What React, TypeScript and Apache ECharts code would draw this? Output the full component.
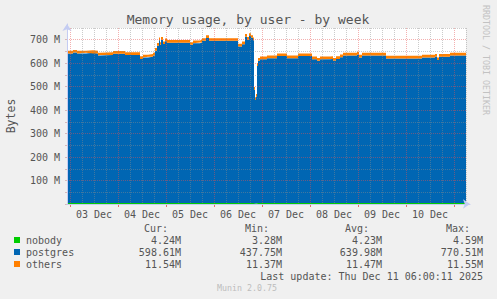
import React, { useEffect, useRef } from 'react';
import * as echarts from 'echarts';

// hours relative to 03 Dec 00:00
const hours = [
  -1.5, 1.5, 3.5, 8, 11.5, 14, 15, 21.5, 27.5, 35,
  36.5, 39, 41.5, 42.5, 43.5, 44.5, 45, 45.5, 46.5, 47.5,
  48.5, 60, 61.5, 65, 66, 68, 69.5, 84, 86, 87.5,
  88.5, 89.5, 90.5, 91.5, 92, 92.5, 93, 93.5, 94, 95,
  98.5, 103.5, 108.5, 114, 121, 123.5, 125, 130, 131.5, 133,
  135, 136.5, 143.5, 144.5, 146, 158, 176, 182.5, 183.5, 184.5,
  190, 198,
];
const postgres = [
  637, 641, 637, 640, 637, 629, 631, 636, 631, 614,
  620, 623, 629, 649, 670, 694, 674, 696, 677, 689,
  683, 674, 681, 684, 691, 703, 691, 667, 677, 709,
  696, 712, 704, 694, 484, 440, 454, 584, 606, 613,
  617, 626, 617, 626, 613, 606, 613, 614, 606, 614,
  621, 629, 633, 620, 629, 616, 620, 624, 609, 623,
  629, 629,
];
const nobody = [
  4.2, 4.2, 4.2, 4.2, 4.2, 4.2, 4.2, 4.2, 4.2, 4.2,
  4.2, 4.2, 4.2, 4.3, 4.3, 4.3, 4.3, 4.3, 4.3, 4.3,
  4.3, 4.3, 4.3, 4.3, 4.3, 4.3, 4.3, 4.2, 4.2, 4.2,
  4.2, 4.2, 4.2, 4.2, 3.3, 3.3, 3.3, 4.2, 4.2, 4.2,
  4.2, 4.2, 4.2, 4.2, 4.2, 4.2, 4.2, 4.2, 4.2, 4.2,
  4.2, 4.2, 4.2, 4.2, 4.2, 4.2, 4.2, 4.2, 4.2, 4.2,
  4.2, 4.2,
];
const others = [
  11.5, 11.5, 11.5, 11.5, 11.5, 11.5, 11.5, 11.5, 11.5, 11.5,
  11.5, 11.5, 11.5, 11.5, 11.5, 11.5, 11.5, 11.5, 11.5, 11.5,
  11.5, 11.5, 11.5, 11.5, 11.5, 11.5, 11.5, 11.4, 11.4, 11.4,
  11.4, 11.4, 11.4, 11.4, 11.4, 11.4, 11.4, 11.4, 11.5, 11.5,
  11.5, 11.5, 11.5, 11.5, 11.5, 11.5, 11.5, 11.5, 11.5, 11.5,
  11.5, 11.5, 11.5, 11.5, 11.5, 11.5, 11.5, 11.5, 11.5, 11.5,
  11.5, 11.5,
];
const dayLabels = ['03 Dec', '04 Dec', '05 Dec', '06 Dec', '07 Dec', '08 Dec', '09 Dec', '10 Dec'];

const legendNames = ['nobody', 'postgres', 'others'];
const legendColors = ['#00CC00', '#0066B3', '#FF8000'];
const curVals = ['4.24M', '598.61M', '11.54M'];
const minVals = ['3.28M', '437.75M', '11.37M'];
const avgVals = ['4.23M', '639.98M', '11.47M'];
const maxVals = ['4.59M', '770.51M', '11.55M'];
const colHeaders = ['Cur:', 'Min:', 'Avg:', 'Max:'];

const FONT = '"DejaVu Sans Mono", monospace';
const TXT = '#555555';
const RED = 'rgba(230,80,80,0.45)';
const GRAY = 'rgba(140,140,140,0.45)';
const AXIS = '#C4CCF2';
const T0 = Date.UTC(2025, 11, 3, 0, 0, 0);
const HOUR = 3600 * 1000;

export default function App() {
  const ref = useRef<HTMLDivElement>(null);
  useEffect(() => {
    if (!ref.current) return;
    const chart = echarts.init(ref.current, null, { renderer: 'svg' });
    const top = 28;
    const h = 176;
    const seriesDefs = [
      { name: 'nobody', vals: nobody, color: legendColors[0] },
      { name: 'postgres', vals: postgres, color: legendColors[1] },
      { name: 'others', vals: others, color: legendColors[2] },
    ];
    const graphic: any[] = [];
    graphic.push({
      type: 'text', x: 248, y: 19,
      style: { text: 'Memory usage, by user - by week', fill: TXT, fontSize: 13, fontFamily: FONT, textAlign: 'center', textVerticalAlign: 'middle' },
    });
    graphic.push({
      type: 'text', x: 11, y: 116, rotation: Math.PI / 2,
      style: { text: 'Bytes', fill: TXT, fontSize: 11.5, fontFamily: FONT, textAlign: 'center', textVerticalAlign: 'middle' },
    });
    graphic.push({
      type: 'text', x: 486, y: 60, rotation: -Math.PI / 2,
      style: { text: 'RRDTOOL / TOBI OETIKER', fill: '#C2C2C2', fontSize: 8.3, fontFamily: FONT, textAlign: 'center', textVerticalAlign: 'middle' },
    });
    const colRights = [181, 282, 382, 483];
    colHeaders.forEach((t, i) => {
      graphic.push({
        type: 'text', x: colRights[i] - 13, y: 228,
        style: { text: t, fill: TXT, fontSize: 10, fontFamily: FONT, textAlign: 'right', textVerticalAlign: 'middle' },
      });
    });
    const cols = [curVals, minVals, avgVals, maxVals];
    legendNames.forEach((n, r) => {
      const y = 240 + r * 12;
      graphic.push({ type: 'rect', shape: { x: 14, y: y - 3, width: 6, height: 6 }, style: { fill: legendColors[r] } });
      graphic.push({
        type: 'text', x: 26, y,
        style: { text: n, fill: TXT, fontSize: 10, fontFamily: FONT, textAlign: 'left', textVerticalAlign: 'middle' },
      });
      cols.forEach((c, i) => {
        graphic.push({
          type: 'text', x: colRights[i], y,
          style: { text: c[r], fill: TXT, fontSize: 10, fontFamily: FONT, textAlign: 'right', textVerticalAlign: 'middle' },
        });
      });
    });
    graphic.push({
      type: 'text', x: 483, y: 276,
      style: { text: 'Last update: Thu Dec 11 06:00:11 2025', fill: TXT, fontSize: 10, fontFamily: FONT, textAlign: 'right', textVerticalAlign: 'middle' },
    });
    graphic.push({
      type: 'text', x: 247, y: 288,
      style: { text: 'Munin 2.0.75', fill: '#BDBDBD', fontSize: 8.3, fontFamily: FONT, textAlign: 'center', textVerticalAlign: 'middle' },
    });

    const hidden = { show: false };
    chart.setOption({
      animation: false,
      backgroundColor: '#F0F0F0',
      grid: [
        { left: 67, top, width: 399, height: h, show: true, backgroundColor: '#FFFFFF', borderWidth: 0, outerBoundsMode: 'none' },
        { left: 70, top, width: 384, height: h, outerBoundsMode: 'none' },
        { left: 70, top, width: 396, height: h, outerBoundsMode: 'none' },
        { left: 67, top: 24, width: 403, height: h + 4, outerBoundsMode: 'none' },
      ],
      xAxis: [
        { gridIndex: 0, type: 'time', min: T0 - 1.5 * HOUR, max: T0 + 198 * HOUR, ...hidden },
        {
          gridIndex: 1, type: 'value', min: 0, max: 192, interval: 24, z: 10,
          axisLine: { show: false },
          axisTick: { show: true, length: 3, lineStyle: { color: '#E07070' } },
          axisLabel: { show: false },
          splitLine: { show: true, lineStyle: { color: RED, type: [1, 1], width: 1 } },
        },
        {
          gridIndex: 2, type: 'value', min: 0, max: 198, interval: 6, z: 9,
          axisLine: { show: false },
          axisTick: { show: false },
          axisLabel: {
            show: true, fontSize: 10, fontFamily: FONT, color: TXT, margin: 5,
            formatter: (v: number) => (v % 24 === 12 ? dayLabels[(v - 12) / 24] || '' : ''),
          },
          splitLine: { show: true, lineStyle: { color: ['rgba(0,0,0,0)', GRAY, GRAY, GRAY], type: [1, 1], width: 1 } },
        },
        {
          gridIndex: 3, type: 'value', min: 0, max: 1, z: 12,
          axisLine: { show: true, symbol: ['none', 'arrow'], symbolSize: [7, 7], lineStyle: { color: AXIS, width: 1 } },
          axisTick: { show: false }, axisLabel: { show: false }, splitLine: { show: false },
        },
      ],
      yAxis: [
        {
          gridIndex: 0, type: 'value', min: 0, max: 750, interval: 50, z: 10,
          axisLine: { show: false },
          axisTick: { show: true, length: 2, lineStyle: { color: '#D8B8B8' } },
          axisLabel: {
            show: true, fontSize: 10, fontFamily: FONT, color: TXT, margin: 7,
            formatter: (v: number) => (v > 0 && v % 100 === 0 ? `${v} M` : ''),
          },
          splitLine: { show: true, lineStyle: { color: [RED, GRAY], type: [1, 1], width: 1 } },
        },
        { gridIndex: 1, type: 'value', min: 0, max: 1, ...hidden },
        { gridIndex: 2, type: 'value', min: 0, max: 1, ...hidden },
        {
          gridIndex: 3, type: 'value', min: 0, max: 1, z: 12,
          axisLine: { show: true, symbol: ['none', 'arrow'], symbolSize: [7, 7], lineStyle: { color: AXIS, width: 1 } },
          axisTick: { show: false }, axisLabel: { show: false }, splitLine: { show: false },
        },
      ],
      series: seriesDefs.map((s) => ({
        name: s.name,
        type: 'line',
        xAxisIndex: 0,
        yAxisIndex: 0,
        stack: 'mem',
        step: 'end',
        symbol: 'none',
        showSymbol: false,
        lineStyle: { width: 0 },
        areaStyle: { color: s.color, opacity: 1 },
        data: hours.map((hh, i) => [T0 + hh * HOUR, s.vals[i]]),
        z: 2,
      })),
      graphic,
    });
    return () => chart.dispose();
  }, []);
  return <div ref={ref} style={{ position: 'fixed', left: 0, top: 0, width: 497, height: 299 }} />;
}
